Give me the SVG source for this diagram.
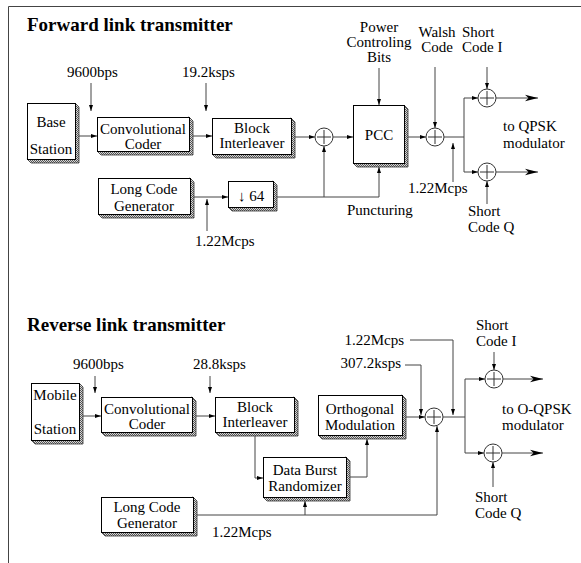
<svg xmlns="http://www.w3.org/2000/svg" width="581" height="563" viewBox="0 0 581 563">
<defs>
<style>
text{font-family:"Liberation Serif","Times New Roman",serif;font-size:15px;fill:#000}
.t{font-weight:bold;font-size:19px}
.m{text-anchor:middle}
.e{text-anchor:end}
.box{fill:#fff;stroke:#000;stroke-width:1}
.sh{fill:url(#h);stroke:#333;stroke-width:0.8}
.ln{fill:none;stroke:#444;stroke-width:1}
.ar{marker-end:url(#a)}
.big{marker-end:url(#b)}
.sum circle{fill:#fff;stroke:#333;stroke-width:1}
.sum path{stroke:#333;stroke-width:1;fill:none}
</style>
<pattern id="h" width="2" height="2" patternUnits="userSpaceOnUse"><rect width="2" height="2" fill="#d8d8d8"/><rect width="1" height="1" fill="#555"/><rect x="1" y="1" width="1" height="1" fill="#555"/></pattern>
<marker id="a" markerWidth="7" markerHeight="6" refX="6" refY="3" orient="auto" markerUnits="userSpaceOnUse"><path d="M0,1 L6,3 L0,5 z" fill="#000"/></marker>
<marker id="b" markerWidth="14" markerHeight="8" refX="13" refY="4" orient="auto" markerUnits="userSpaceOnUse"><path d="M0,0.8 L13,4 L0,7.2 L3.5,4 z" fill="#000"/></marker>
</defs>
<rect width="581" height="563" fill="#fff"/>
<path d="M8.5,563 V6.5 H581" class="ln" stroke="#333"/>

<!-- Forward -->
<text class="t" x="27" y="31">Forward link transmitter</text>

<g id="f-base"><polygon class="sh" points="75,103 79,107 79,163 31,163 27,159"/><rect class="box" x="27.5" y="103.5" width="48" height="56"/><text class="m" x="51" y="127">Base</text><text class="m" x="51" y="154">Station</text></g>
<g id="f-conv"><polygon class="sh" points="189,117 193,121 193,155 101,155 97,151"/><rect class="box" x="97.5" y="117.5" width="92" height="34"/><text class="m" x="143" y="134">Convolutional</text><text class="m" x="143" y="149">Coder</text></g>
<g id="f-block"><polygon class="sh" points="291,118 295,122 295,158 216,158 212,154"/><rect class="box" x="212.5" y="118.5" width="79" height="36"/><text class="m" x="252" y="133">Block</text><text class="m" x="252" y="148">Interleaver</text></g>
<g id="f-pcc"><polygon class="sh" points="404,105 408,109 408,167 357,167 353,163"/><rect class="box" x="353.5" y="105.5" width="51" height="58"/><text class="m" x="379" y="140">PCC</text></g>
<g id="f-lcg"><polygon class="sh" points="190,178 194,182 194,218 102,218 98,214"/><rect class="box" x="98.5" y="178.5" width="92" height="36"/><text class="m" x="144" y="194">Long Code</text><text class="m" x="144" y="211">Generator</text></g>
<g id="f-div"><polygon class="sh" points="273,181 277,185 277,211 232,211 228,207"/><rect class="box" x="228.5" y="181.5" width="45" height="26"/><text class="m" x="251" y="201">↓ 64</text></g>

<g id="f-sum1" class="sum"><circle cx="324" cy="137" r="9"/><path d="M317,137 H331 M324,130 V144"/></g>
<g id="f-sum2" class="sum"><circle cx="435" cy="137" r="9"/><path d="M428,137 H442 M435,130 V144"/></g>
<g id="f-sumI" class="sum"><circle cx="487" cy="98" r="9"/><path d="M480,98 H494 M487,91 V105"/></g>
<g id="f-sumQ" class="sum"><circle cx="487" cy="172" r="9"/><path d="M480,172 H494 M487,165 V179"/></g>

<g id="f-labels">
<text x="67" y="77">9600bps</text>
<text x="182" y="77">19.2ksps</text>
<text class="m" x="379" y="32">Power</text>
<text class="m" x="379" y="47">Controling</text>
<text class="m" x="379" y="62">Bits</text>
<text class="m" x="437" y="37">Walsh</text>
<text class="m" x="437" y="52">Code</text>
<text x="462" y="37">Short</text>
<text x="462" y="52">Code I</text>
<text x="503" y="131">to QPSK</text>
<text x="503" y="148">modulator</text>
<text x="408" y="193">1.22Mcps</text>
<text x="347" y="215">Puncturing</text>
<text x="468" y="216">Short</text>
<text x="468" y="232">Code Q</text>
<text x="195" y="246">1.22Mcps</text>
</g>

<g id="f-connectors">
<path class="ln ar" d="M91,83 V111"/>
<path class="ln ar" d="M206,83 V111"/>
<path class="ln ar" d="M79,136 H97"/>
<path class="ln ar" d="M193,136 H212"/>
<path class="ln ar" d="M295,137 H315"/>
<path class="ln ar" d="M333,137 H353"/>
<path class="ln ar" d="M408,137 H426"/>
<path class="ln" d="M444,137 H464 M464,98 V172"/>
<path class="ln ar" d="M464,98 H478"/>
<path class="ln ar" d="M464,172 H478"/>
<path class="ln big" d="M496,98 H538"/>
<path class="ln big" d="M496,172 H538"/>
<path class="ln ar" d="M379,68 V105"/>
<path class="ln ar" d="M435,67 V128"/>
<path class="ln ar" d="M487,67 V89"/>
<path class="ln ar" d="M453,182 V143"/>
<path class="ln ar" d="M487,204 V181"/>
<path class="ln ar" d="M194,197 H228"/>
<path class="ln ar" d="M207,231 V199"/>
<path class="ln" d="M277,197 H379"/>
<path class="ln ar" d="M324,197 V146"/>
<path class="ln ar" d="M379,197 V167"/>
</g>

<!-- Reverse -->
<text class="t" x="27" y="331">Reverse link transmitter</text>

<g id="r-mobile"><polygon class="sh" points="79,383 83,387 83,444 35,444 31,440"/><rect class="box" x="31.5" y="383.5" width="48" height="57"/><text class="m" x="55" y="400">Mobile</text><text class="m" x="55" y="434">Station</text></g>
<g id="r-conv"><polygon class="sh" points="192,397 196,401 196,436 105,436 101,432"/><rect class="box" x="101.5" y="397.5" width="91" height="35"/><text class="m" x="147" y="414">Convolutional</text><text class="m" x="147" y="429">Coder</text></g>
<g id="r-block"><polygon class="sh" points="294,397 298,401 298,436 219,436 215,432"/><rect class="box" x="215.5" y="397.5" width="79" height="35"/><text class="m" x="255" y="412">Block</text><text class="m" x="255" y="427">Interleaver</text></g>
<g id="r-dbr"><polygon class="sh" points="346,457 350,461 350,501 267,501 263,497"/><rect class="box" x="263.5" y="457.5" width="83" height="40"/><text class="m" x="305" y="475">Data Burst</text><text class="m" x="305" y="491">Randomizer</text></g>
<g id="r-orth"><polygon class="sh" points="402,395 406,399 406,439 322,439 318,435"/><rect class="box" x="318.5" y="395.5" width="84" height="40"/><text class="m" x="360" y="414">Orthogonal</text><text class="m" x="360" y="430">Modulation</text></g>
<g id="r-lcg"><polygon class="sh" points="193,497 197,501 197,536 105,536 101,532"/><rect class="box" x="101.5" y="497.5" width="92" height="35"/><text class="m" x="147" y="512">Long Code</text><text class="m" x="147" y="528">Generator</text></g>

<g id="r-sum1" class="sum"><circle cx="434" cy="417" r="9"/><path d="M427,417 H441 M434,410 V424"/></g>
<g id="r-sumI" class="sum"><circle cx="494" cy="379" r="9"/><path d="M487,379 H501 M494,372 V386"/></g>
<g id="r-sumQ" class="sum"><circle cx="493" cy="453" r="9"/><path d="M486,453 H500 M493,446 V460"/></g>

<g id="r-labels">
<text x="73" y="369">9600bps</text>
<text x="193" y="369">28.8ksps</text>
<text class="e" x="404" y="345">1.22Mcps</text>
<text class="e" x="401" y="368">307.2ksps</text>
<text x="476" y="330">Short</text>
<text x="476" y="346">Code I</text>
<text x="502" y="414">to O-QPSK</text>
<text x="502" y="430">modulator</text>
<text x="475" y="502">Short</text>
<text x="475" y="518">Code Q</text>
<text x="212" y="537">1.22Mcps</text>
</g>

<g id="r-connectors">
<path class="ln ar" d="M95,376 V393"/>
<path class="ln ar" d="M210,376 V393"/>
<path class="ln ar" d="M83,416 H101"/>
<path class="ln ar" d="M196,416 H215"/>
<path class="ln ar" d="M255,436 V478 H263"/>
<path class="ln ar" d="M350,477 H367 V439"/>
<path class="ln ar" d="M406,417 H425"/>
<path class="ln" d="M443,417 H465 M465,379 V453"/>
<path class="ln ar" d="M465,379 H485"/>
<path class="ln ar" d="M465,453 H484"/>
<path class="ln big" d="M503,379 H543"/>
<path class="ln big" d="M502,453 H543"/>
<path class="ln ar" d="M494,352 V370"/>
<path class="ln ar" d="M493,487 V462"/>
<path class="ln ar" d="M410,340 H453 V415"/>
<path class="ln ar" d="M405,365 H421 V415"/>
<path class="ln ar" d="M197,515 H437 V426"/>
<path class="ln ar" d="M305,515 V501"/>
</g>
</svg>
